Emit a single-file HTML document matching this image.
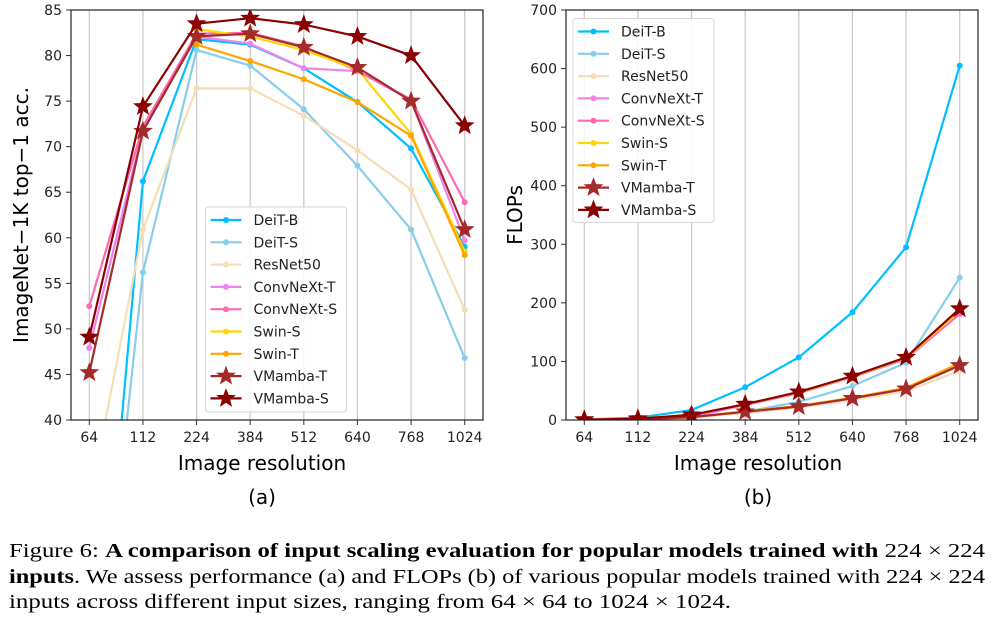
<!DOCTYPE html>
<html><head><meta charset="utf-8"><style>
html,body{margin:0;padding:0;background:#fff;width:997px;height:620px;overflow:hidden;}
svg{display:block;font-family:"DejaVu Sans","Liberation Sans",sans-serif;}
</style></head><body>
<svg id="fig" width="997" height="620" viewBox="0 0 997 620" xmlns="http://www.w3.org/2000/svg">
<defs>
<clipPath id="clipA"><rect x="71" y="10" width="412" height="410"/></clipPath>
<clipPath id="clipB"><rect x="566" y="10" width="412" height="410"/></clipPath>
</defs>
<g id="chartA"></g>
<g id="chartB"></g>
<g font-family="'Liberation Serif',serif" font-size="20" fill="#000">
<text x="9" y="557" textLength="976" lengthAdjust="spacingAndGlyphs">Figure 6: <tspan font-weight="bold">A comparison of input scaling evaluation for popular models trained with</tspan> 224 × 224</text>
<text x="9" y="583" textLength="976" lengthAdjust="spacingAndGlyphs"><tspan font-weight="bold">inputs</tspan>. We assess performance (a) and FLOPs (b) of various popular models trained with 224 × 224</text>
<text x="9" y="608" textLength="722" lengthAdjust="spacingAndGlyphs">inputs across different input sizes, ranging from 64 × 64 to 1024 × 1024.</text>
</g>
</svg>
<script>
const categories = ["64","112","224","384","512","640","768","1024"];
const seriesNames = ["DeiT-B","DeiT-S","ResNet50","ConvNeXt-T","ConvNeXt-S","Swin-S","Swin-T","VMamba-T","VMamba-S"];
const seriesColors = ["#00bfff","#87ceeb","#f5deb3","#ee82ee","#ff69b4","#ffd700","#ffa500","#a52a2a","#8b0000"];
const accDeiTB = [0, 66.2, 81.8, 81.2, 78.6, 74.9, 69.8, 59.0];
const accDeiTS = [2, 56.2, 80.6, 78.9, 74.1, 67.9, 60.9, 46.8];
const accResNet50 = [31, 60.9, 76.4, 76.4, 73.4, 69.6, 65.3, 52.1];
const accConvNeXtT = [47.9, 71.8, 82.1, 81.3, 78.6, 78.3, 75.1, 59.7];
const accConvNeXtS = [52.5, 72.2, 82.4, 82.5, 81.0, 78.3, 75.2, 63.9];
const accSwinS = [null, null, 82.9, 82.1, 80.6, 78.5, 71.4, 58.5];
const accSwinT = [null, null, 81.2, 79.4, 77.4, 74.9, 71.2, 58.1];
const accVMambaT = [45.2, 71.7, 82.1, 82.4, 80.9, 78.7, 75.0, 60.9];
const accVMambaS = [49.1, 74.4, 83.5, 84.1, 83.4, 82.1, 80.0, 72.3];
const flDeiTB = [1, 4, 17, 56, 107, 184, 295, 605];
const flDeiTS = [0.5, 1.2, 4.6, 14, 31, 58, 98, 243];
const flResNet50 = [0.3, 1.3, 4.1, 12, 21, 34, 49, 84];
const flConvNeXtT = [0.5, 1.8, 4.5, 26, 46, 73, 104, 181];
const flConvNeXtS = [0.7, 2.0, 8.7, 26, 46, 74, 105, 182];
const flSwinS = [0.7, 2.1, 8.7, 27, 47, 74, 106, 186];
const flSwinT = [0.3, 1.3, 4.5, 15, 24, 38, 55, 97];
const flVMambaT = [0.3, 1.2, 4.9, 14, 23, 37, 53, 93];
const flVMambaS = [0.6, 2.2, 8.7, 27, 48, 75, 107, 190];
const accTicks = [40,45,50,55,60,65,70,75,80,85];
const flTicks = [0,100,200,300,400,500,600,700];
const accSeries = [accDeiTB,accDeiTS,accResNet50,accConvNeXtT,accConvNeXtS,accSwinS,accSwinT,accVMambaT,accVMambaS];
const flSeries = [flDeiTB,flDeiTS,flResNet50,flConvNeXtT,flConvNeXtS,flSwinS,flSwinT,flVMambaT,flVMambaS];

const NS="http://www.w3.org/2000/svg";
function mk(tag, attrs, parent){const e=document.createElementNS(NS,tag);for(const k in attrs)e.setAttribute(k,attrs[k]);if(parent)parent.appendChild(e);return e;}
function starPts(cx,cy,R){const r=R*0.42;let p=[];for(let i=0;i<10;i++){const a=-Math.PI/2+i*Math.PI/5;const rr=i%2?r:R;p.push((cx+rr*Math.cos(a)).toFixed(2)+","+(cy+rr*Math.sin(a)).toFixed(2));}return p.join(" ");}
function marker(g,i,x,y){
  if(i>=7){const s=mk("polygon",{points:starPts(x,y,9),fill:seriesColors[i],stroke:seriesColors[i],"stroke-width":1},g);
    
    }
  else{const c=mk("circle",{cx:x,cy:y,r:3,fill:seriesColors[i]},g);
    
    }
}
function drawChart(gid,L,R,T,B,ymin,ymax,ticks,series,clip,ytitle,ytx,xt,sub,lg){
  const g=document.getElementById(gid);
  const x0=L+18.3, step=(R-L-36.6)/(categories.length-1);
  const xs=i=>x0+i*step;
  const ys=v=>B-(v-ymin)/(ymax-ymin)*(B-T);
  categories.forEach((c,i)=>{
    const gl=mk("line",{x1:xs(i),x2:xs(i),y1:T,y2:B,stroke:"#c8c8c8","stroke-width":1.2},g);
    
    
    const tk=mk("line",{x1:xs(i),x2:xs(i),y1:B,y2:B+5,stroke:"#333","stroke-width":1},g);
    
    
    const t=mk("text",{x:xs(i),y:B+22,"text-anchor":"middle","font-size":14,fill:"#222"},g);t.textContent=c;
    
    
  });
  ticks.forEach(v=>{
    const tk=mk("line",{x1:L-5,x2:L,y1:ys(v),y2:ys(v),stroke:"#333","stroke-width":1},g);
    
    
    const t=mk("text",{x:L-9,y:ys(v)+5,"text-anchor":"end","font-size":14,fill:"#222"},g);t.textContent=v;
    
    
  });
  const pg=mk("g",{"clip-path":"url(#"+clip+")"},g);
  series.forEach((arr,i)=>{
    const sg=mk("g",{},pg);
    
    
    const pts=[];arr.forEach((v,j)=>{if(v!==null)pts.push([xs(j),ys(v)]);});
    mk("polyline",{points:pts.map(p=>p.join(",")).join(" "),fill:"none",stroke:seriesColors[i],"stroke-width":2.2,"stroke-linejoin":"round"},sg);
    pts.forEach(p=>marker(sg,i,p[0],p[1]));
  });
  const fr=mk("rect",{x:L,y:T,width:R-L,height:B-T,fill:"none",stroke:"#222","stroke-width":1.2},g);
  
  
  const yt=mk("text",{x:ytx,y:(T+B)/2,"text-anchor":"middle","font-size":20,fill:"#000",transform:"rotate(-90 "+ytx+" "+((T+B)/2)+")"},g);yt.textContent=ytitle;
  
  
  const xtt=mk("text",{x:xt,y:470,"text-anchor":"middle","font-size":20,fill:"#000"},g);xtt.textContent="Image resolution";
  
  
  const sb=mk("text",{x:xt,y:504,"text-anchor":"middle","font-size":20,fill:"#000"},g);sb.textContent=sub;
  
  
  const lgG=mk("g",{},g);
  
  
  mk("rect",{x:lg.x,y:lg.y,width:lg.w,height:lg.h,rx:3,fill:"#fff","fill-opacity":0.85,stroke:"#d6d6d6"},lgG);
  seriesNames.forEach((n,i)=>{
    const e=mk("g",{},lgG);
    
    
    const y=lg.y+13+i*22.3;
    mk("line",{x1:lg.x+5,x2:lg.x+36,y1:y,y2:y,stroke:seriesColors[i],"stroke-width":2.2},e);
    marker(e,i,lg.x+20.5,y);
    const t=mk("text",{x:lg.x+48,y:y+5,"font-size":14,fill:"#222"},e);t.textContent=n;
  });
}
drawChart("chartA",71,483,10,420,40,85,accTicks,accSeries,"clipA","ImageNet−1K top−1 acc.",28,262,"(a)",{x:205.5,y:207,w:141,h:205});
drawChart("chartB",566,978,10,420,0,700,flTicks,flSeries,"clipB","FLOPs",522,758,"(b)",{x:573,y:18.5,w:141,h:204});
</script>
</body></html>
